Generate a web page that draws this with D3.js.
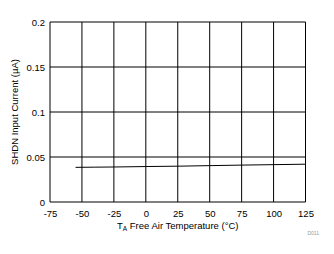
<!DOCTYPE html>
<html>
<head>
<meta charset="utf-8">
<script src="https://cdn.jsdelivr.net/npm/d3@7"></script>
<style>
  body { margin: 0; background: #fff; }
  text { font-family: Arial, "Liberation Sans", sans-serif; }
</style>
</head>
<body>
<svg id="chart" width="334" height="254"></svg>
<script>
const temps = [-55, -40, -25, -10, 0, 25, 50, 75, 100, 125]
const current = [0.0385, 0.0387, 0.0389, 0.0392, 0.0394, 0.0398, 0.0404, 0.041, 0.0415, 0.042]
const xTicks = [-75, -50, -25, 0, 25, 50, 75, 100, 125]
const yTicks = [0, 0.05, 0.1, 0.15, 0.2]

const margin = {top: 22, right: 28.5, bottom: 52, left: 50}
const width = 334 - margin.left - margin.right
const height = 254 - margin.top - margin.bottom

const svg = d3.select('#chart')
const g = svg.append('g')
    .attr('transform', 'translate(' + margin.left + ',' + margin.top + ')')

const x = d3.scaleLinear().domain([-75, 125]).range([0, width])
const y = d3.scaleLinear().domain([0, 0.2]).range([height, 0])

// grid
g.selectAll('.vgrid').data(xTicks).enter().append('line')
    .attr('x1', d => x(d)).attr('x2', d => x(d))
    .attr('y1', 0).attr('y2', height)
    .attr('stroke', '#000').attr('stroke-width', 1)
g.selectAll('.hgrid').data(yTicks).enter().append('line')
    .attr('x1', 0).attr('x2', width)
    .attr('y1', d => y(d)).attr('y2', d => y(d))
    .attr('stroke', '#000').attr('stroke-width', 1)

// axes (labels only)
const xAxis = g.append('g')
    .attr('transform', 'translate(0,' + height + ')')
    .call(d3.axisBottom(x).tickValues(xTicks).tickSize(0).tickPadding(8).tickFormat(d => String(d)))
xAxis.select('.domain').remove()
xAxis.selectAll('text').attr('font-size', 9.5).attr('fill', '#000')

const yAxis = g.append('g')
    .call(d3.axisLeft(y).tickValues(yTicks).tickSize(0).tickPadding(5).tickFormat(d => String(d)))
yAxis.select('.domain').remove()
yAxis.selectAll('text').attr('font-size', 9.5).attr('fill', '#000')

// data line
const line = d3.line().x((d, i) => x(temps[i])).y(d => y(d))
g.append('path')
    .datum(current)
    .attr('d', line)
    .attr('fill', 'none')
    .attr('stroke', '#000')
    .attr('stroke-width', 1)

// titles
const xt = svg.append('text')
    .attr('x', margin.left + width / 2)
    .attr('y', 229)
    .attr('text-anchor', 'middle')
    .attr('font-size', 9.5)
xt.append('tspan').text('T')
xt.append('tspan').attr('font-size', 6.5).attr('dy', 2).text('A')
xt.append('tspan').attr('dy', -2).text(' Free Air Temperature (°C)')

svg.append('text')
    .attr('transform', 'translate(18,' + (margin.top + height / 2) + ') rotate(-90)')
    .attr('text-anchor', 'middle')
    .attr('font-size', 9.5)
    .text('SHDN Input Current (µA)')

svg.append('text')
    .attr('x', 319).attr('y', 235)
    .attr('text-anchor', 'end')
    .attr('font-size', 5)
    .attr('fill', '#999')
    .text('D011')
</script>
</body>
</html>
